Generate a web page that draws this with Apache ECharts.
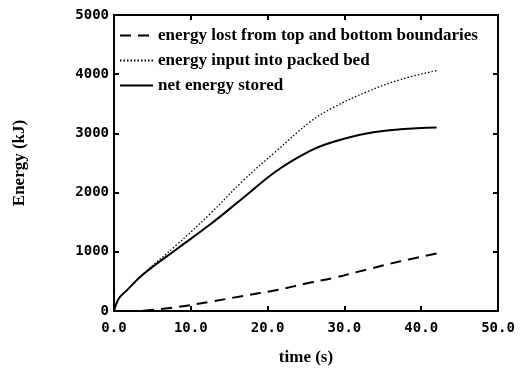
<!DOCTYPE html>
<html><head><meta charset="utf-8">
<script src="https://cdn.jsdelivr.net/npm/echarts@6/dist/echarts.min.js"></script>
<style>html,body{margin:0;padding:0;background:#fff}#c{width:532px;height:372px}</style>
</head><body><div id="c"></div>
<script>
var times    = [0, 0.3, 0.7, 1.6, 3.8, 8.1, 12.5, 16.8, 21.2, 25.6, 28.6, 32.9, 37.3, 42.0];
var netStored = [0, 120, 225, 340, 620, 1040, 1460, 1910, 2370, 2710, 2860, 3000, 3070, 3100];
var energyIn  = [0, 120, 225, 340, 625, 1110, 1640, 2200, 2710, 3200, 3440, 3700, 3910, 4060];
var energyLost = [null, null, null, null, 5, 65, 155, 255, 355, 480, 560, 700, 840, 970];
var xTicks = ['0.0', '10.0', '20.0', '30.0', '40.0', '50.0'];
var yTicks = ['0', '1000', '2000', '3000', '4000', '5000'];
var names = ['energy lost from top and bottom boundaries', 'energy input into packed bed', 'net energy stored'];

function pairs(v){ var o=[]; for(var i=0;i<times.length;i++){ if(v[i]!==null) o.push([times[i], v[i]]); } return o; }

var lab = {fontFamily:'DejaVu Sans Mono', fontWeight:'bold', fontSize:14, color:'#000'};
var axLine = {onZero:false, lineStyle:{color:'#000', width:2}};
var tick = {inside:true, length:5, lineStyle:{color:'#000', width:2}};
var nameFont = {fontFamily:'Liberation Serif', fontWeight:'bold', fontSize:17, color:'#000'};

var chart = echarts.init(document.getElementById('c'));
chart.setOption({
  animation:false,
  backgroundColor:'#fff',
  grid:{left:114, right:34, top:15, bottom:61},
  legend:{
    orient:'vertical', left:114, top:22, itemWidth:33, itemHeight:14, itemGap:8,
    itemStyle:{opacity:0},
    textStyle:{fontFamily:'Liberation Serif', fontWeight:'bold', fontSize:17, color:'#000'},
    data: names
  },
  xAxis:[{
    type:'value', min:0, max:50, interval:10, position:'bottom',
    axisLine:axLine, axisTick:tick, splitLine:{show:false},
    axisLabel:Object.assign({margin:10, formatter:function(v){return xTicks[Math.round(v/10)];}}, lab),
    name:'time (s)', nameLocation:'middle', nameGap:38, nameTextStyle:nameFont
  },{
    type:'value', min:0, max:50, interval:10, position:'top',
    axisLine:axLine, axisTick:tick, axisLabel:{show:false}, splitLine:{show:false}
  }],
  yAxis:[{
    type:'value', min:0, max:5000, interval:1000, position:'left',
    axisLine:axLine, axisTick:tick, splitLine:{show:false},
    axisLabel:Object.assign({margin:5, formatter:function(v){return yTicks[Math.round(v/1000)];}}, lab),
    name:'Energy (kJ)', nameLocation:'middle', nameGap:86, nameRotate:90, nameTextStyle:nameFont
  },{
    type:'value', min:0, max:5000, interval:1000, position:'right',
    axisLine:axLine, axisTick:tick, axisLabel:{show:false}, splitLine:{show:false}
  }],
  series:[
    {name:names[0], type:'line', data:pairs(energyLost), symbol:'none', smooth:0.4,
     lineStyle:{color:'#000', width:2, type:[11,7]}},
    {name:names[1], type:'line', data:pairs(energyIn), symbol:'none', smooth:0.4,
     lineStyle:{color:'#000', width:1.3, type:[1.5,2]}},
    {name:names[2], type:'line', data:pairs(netStored), symbol:'none', smooth:0.4,
     lineStyle:{color:'#000', width:2}}
  ]
});
</script></body></html>
